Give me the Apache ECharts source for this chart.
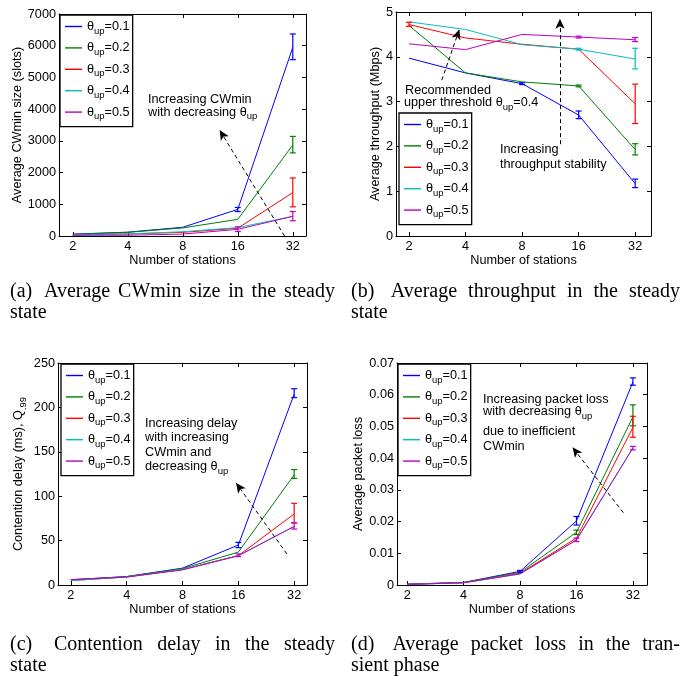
<!DOCTYPE html>
<html>
<head>
<meta charset="utf-8">
<script src="https://cdn.jsdelivr.net/npm/echarts@6/dist/echarts.min.js"></script>
<style>
  html, body { margin: 0; padding: 0; background: #fff; }
  #chart { width: 696px; height: 677px; }
</style>
</head>
<body>
<div id="chart"></div>
<script>
// ---- data ----
const stations = ['2', '4', '8', '16', '32'];
const stationIdx = [0, 1, 2, 3, 4];
const thetaNames = ['θup=0.1', 'θup=0.2', 'θup=0.3', 'θup=0.4', 'θup=0.5'];

// (a) average CWmin size (slots)
const cwmin01 = [60, 120, 275, 840, 5950];
const cwmin02 = [50, 115, 255, 525, 2870];
const cwmin03 = [35, 65, 115, 245, 1370];
const cwmin04 = [35, 65, 135, 265, 620];
const cwmin05 = [20, 25, 60, 210, 620];
// error bars: [station index, low, high]
const cwminErr01 = [[3, 770, 900], [4, 5560, 6370]];
const cwminErr02 = [[4, 2620, 3140]];
const cwminErr03 = [[4, 920, 1830]];
const cwminErr04 = [];
const cwminErr05 = [[3, 140, 290], [4, 480, 770]];

// (b) average throughput (Mbps)
const thr01 = [3.97, 3.64, 3.40, 2.70, 1.17];
const thr02 = [4.70, 3.64, 3.44, 3.35, 1.93];
const thr03 = [4.72, 4.42, 4.28, 4.17, 2.95];
const thr04 = [4.78, 4.61, 4.27, 4.17, 3.95];
const thr05 = [4.29, 4.16, 4.50, 4.44, 4.38];
const thrErr01 = [[2, 3.38, 3.42], [3, 2.62, 2.79], [4, 1.08, 1.27]];
const thrErr02 = [[3, 3.33, 3.37], [4, 1.81, 2.06]];
const thrErr03 = [[0, 4.68, 4.77], [4, 2.51, 3.39]];
const thrErr04 = [[3, 4.15, 4.19], [4, 3.73, 4.19]];
const thrErr05 = [[3, 4.42, 4.46], [4, 4.34, 4.43]];

// (c) contention delay (ms), Q.99
const delay01 = [6, 9.5, 19, 45, 215];
const delay02 = [5.5, 9.5, 18.5, 37, 124];
const delay03 = [5, 9, 17.5, 33, 80];
const delay04 = [5, 9, 17.5, 33, 66];
const delay05 = [6, 9, 17, 33, 66];
const delayErr01 = [[3, 42, 48], [4, 211, 221]];
const delayErr02 = [[4, 120, 130]];
const delayErr03 = [[4, 70, 92]];
const delayErr04 = [];
const delayErr05 = [[3, 32, 35], [4, 63, 70]];

// (d) average packet loss
const loss01 = [0.0003, 0.0008, 0.0043, 0.0202, 0.0640];
const loss02 = [0.0002, 0.0008, 0.0040, 0.0166, 0.0530];
const loss03 = [0.0002, 0.0007, 0.0037, 0.0148, 0.0497];
const loss04 = [0.0002, 0.0007, 0.0035, 0.0142, 0.0432];
const loss05 = [0.0002, 0.0007, 0.0035, 0.0142, 0.0432];
const lossErr01 = [[2, 0.0040, 0.0046], [3, 0.0189, 0.0216], [4, 0.0630, 0.0653]];
const lossErr02 = [[3, 0.0159, 0.0173], [4, 0.0502, 0.0568]];
const lossErr03 = [[4, 0.0466, 0.0532]];
const lossErr04 = [];
const lossErr05 = [[3, 0.0137, 0.0148], [4, 0.0426, 0.0437]];

// dashed annotation arrows, [from, to] in (station index, value)
const arrowsA = [[[3.85, 0], [2.67, 3340]]];
const arrowsB = [[[0.58, 3.48], [0.89, 4.61]], [[2.67, 2.05], [2.67, 4.85]]];
const arrowsC = [[[3.87, 35], [2.96, 115]]];
const arrowsD = [[[3.83, 0.0228], [2.93, 0.0434]]];

// ---- style ----
const FONT = 'Liberation Sans';
const FS = 12.7;
const colors = ['#0000ff', '#008000', '#ff0000', '#00bfbf', '#bf00bf'];
const subRich = {
  t: { fontFamily: FONT, fontSize: FS, color: '#000' },
  s: { fontFamily: FONT, fontSize: 9.5, color: '#000', padding: [9, 0, 0, 0] }
};

const panels = [
  {
    grid: { left: 59, top: 14, width: 247, height: 222 },
    xMin: -0.25, xMax: 4.24, yMax: 7000, yInt: 1000,
    yName: 'Average CWmin size (slots)', yGap: 33,
    fmt: v => String(v),
    lines: [cwmin01, cwmin02, cwmin03, cwmin04, cwmin05],
    errs: [cwminErr01, cwminErr02, cwminErr03, cwminErr04, cwminErr05],
    arrows: arrowsA,
    legend: { left: 60, top: 15 }
  },
  {
    grid: { left: 396, top: 12, width: 255, height: 224 },
    xMin: -0.23, xMax: 4.28, yMax: 5, yInt: 1,
    yName: 'Average throughput (Mbps)', yGap: 13,
    fmt: v => String(v),
    lines: [thr01, thr02, thr03, thr04, thr05],
    errs: [thrErr01, thrErr02, thrErr03, thrErr04, thrErr05],
    arrows: arrowsB,
    legend: { left: 399, top: 113 }
  },
  {
    grid: { left: 58, top: 363, width: 249, height: 222 },
    xMin: -0.23, xMax: 4.23, yMax: 250, yInt: 50,
    yName: '{t|Contention delay (ms), Q}{s|.99}', yGap: 30,
    fmt: v => String(v),
    lines: [delay01, delay02, delay03, delay04, delay05],
    errs: [delayErr01, delayErr02, delayErr03, delayErr04, delayErr05],
    arrows: arrowsC,
    legend: { left: 61, top: 364 }
  },
  {
    grid: { left: 397, top: 363, width: 250, height: 222 },
    xMin: -0.18, xMax: 4.25, yMax: 0.07, yInt: 0.01,
    yName: 'Average packet loss', yGap: 31,
    fmt: v => (v === 0 ? '0' : v.toFixed(2)),
    lines: [loss01, loss02, loss03, loss04, loss05],
    errs: [lossErr01, lossErr02, lossErr03, lossErr04, lossErr05],
    arrows: arrowsD,
    legend: { left: 398, top: 364 }
  }
];

const notes = [
  { x: 148, y: 99.5, t: 'Increasing CWmin' },
  { x: 148, y: 112, t: 'with decreasing {t|θ}{s|up}' },
  { x: 405, y: 90.5, t: 'Recommended' },
  { x: 404, y: 102.7, t: 'upper threshold {t|θ}{s|up}{t|=0.4}' },
  { x: 500, y: 149.3, t: 'Increasing' },
  { x: 500, y: 164.3, t: 'throughput stability' },
  { x: 145, y: 423.3, t: 'Increasing delay' },
  { x: 145, y: 437.5, t: 'with increasing' },
  { x: 145, y: 452.3, t: 'CWmin and' },
  { x: 145, y: 466.7, t: 'decreasing {t|θ}{s|up}' },
  { x: 483, y: 399.3, t: 'Increasing packet loss' },
  { x: 483, y: 411.7, t: 'with decreasing {t|θ}{s|up}' },
  { x: 483, y: 431.7, t: 'due to inefficient' },
  { x: 483, y: 446, t: 'CWmin' }
];

const captions = [
  { text: '(a) Average CWmin size in the steady', x0: 10, x1: 335, y: 291.5 },
  { text: 'state', x0: 10, y: 312.5 },
  { text: '(b) Average throughput in the steady', x0: 351, x1: 680, y: 291.5 },
  { text: 'state', x0: 351, y: 312.5 },
  { text: '(c) Contention delay in the steady', x0: 10, x1: 335, y: 644.5 },
  { text: 'state', x0: 10, y: 665.5 },
  { text: '(d) Average packet loss in the tran-', x0: 351, x1: 680, y: 644.5 },
  { text: 'sient phase', x0: 351, y: 665.5 }
];

// ---- build ----
const measureCtx = document.createElement('canvas').getContext('2d');
measureCtx.font = '20px "Liberation Serif"';

function captionElements(c) {
  const words = c.text.split(' ');
  const capStyle = w => ({ text: w, fontFamily: 'Liberation Serif', fontSize: 20, fill: '#000', verticalAlign: 'middle' });
  if (c.x1 === undefined) {
    return [{ type: 'text', x: c.x0, y: c.y, style: capStyle(c.text) }];
  }
  const widths = words.map(w => measureCtx.measureText(w).width);
  const total = widths.reduce((a, b) => a + b, 0);
  const weights = words.slice(1).map((_, i) => (i === 0 ? 1.5 : 1));
  const unit = (c.x1 - c.x0 - total) / weights.reduce((a, b) => a + b, 0);
  let x = c.x0;
  return words.map((w, i) => {
    const el = { type: 'text', x: x, y: c.y, style: capStyle(w) };
    x += widths[i] + unit * (weights[i] || 0);
    return el;
  });
}

const grids = [], xAxes = [], yAxes = [], series = [], legends = [];
const axisText = { color: '#000', fontFamily: FONT, fontSize: FS };

panels.forEach((p, pi) => {
  grids.push(p.grid);

  const xBase = {
    type: 'value', gridIndex: pi, min: p.xMin, max: p.xMax,
    splitLine: { show: false },
    axisLine: { show: true, onZero: false, lineStyle: { color: '#000', width: 1 } },
    axisTick: { show: true, inside: true, length: 4, customValues: stationIdx, lineStyle: { color: '#000' } },
    axisLabel: Object.assign({ customValues: stationIdx, formatter: v => stations[Math.round(v)], margin: 4 }, axisText)
  };
  xAxes.push(Object.assign({}, xBase, {
    position: 'bottom', name: 'Number of stations', nameLocation: 'middle', nameGap: 15,
    nameTextStyle: axisText
  }));
  xAxes.push(Object.assign({}, xBase, { position: 'top', axisLabel: { show: false } }));

  const yBase = {
    type: 'value', gridIndex: pi, min: 0, max: p.yMax, interval: p.yInt,
    splitLine: { show: false },
    axisLine: { show: true, onZero: false, lineStyle: { color: '#000', width: 1 } },
    axisTick: { show: true, inside: true, length: 4, lineStyle: { color: '#000' } },
    axisLabel: Object.assign({ formatter: p.fmt, margin: 3 }, axisText)
  };
  yAxes.push(Object.assign({}, yBase, {
    position: 'left', name: p.yName, nameLocation: 'middle', nameGap: p.yGap,
    nameTextStyle: Object.assign({ rich: subRich }, axisText)
  }));
  yAxes.push(Object.assign({}, yBase, { position: 'right', axisLabel: { show: false } }));

  p.lines.forEach((vals, k) => {
    const s = {
      type: 'line', name: thetaNames[k],
      xAxisIndex: 2 * pi, yAxisIndex: 2 * pi,
      data: vals.map((v, i) => [stationIdx[i], v]),
      symbol: 'none',
      lineStyle: { color: colors[k], width: 1 },
      itemStyle: { color: colors[k] },
      z: 2
    };
    if (k === 0) {
      s.markLine = {
        silent: true,
        symbol: ['none', 'arrow'],
        symbolSize: [7, 10],
        label: { show: false },
        lineStyle: { color: '#000', width: 1, type: [4, 3] },
        emphasis: { disabled: true },
        data: p.arrows.map(a => [{ coord: a[0] }, { coord: a[1] }])
      };
    }
    series.push(s);
  });

  p.errs.forEach((errs, k) => {
    if (!errs.length) return;
    const col = colors[k];
    series.push({
      type: 'custom',
      xAxisIndex: 2 * pi, yAxisIndex: 2 * pi,
      data: errs,
      z: 3,
      renderItem: (params, api) => {
        const lo = api.coord([api.value(0), api.value(1)]);
        const hi = api.coord([api.value(0), api.value(2)]);
        const w = 3;
        const st = { stroke: col, lineWidth: 1.2 };
        return {
          type: 'group',
          children: [
            { type: 'line', shape: { x1: lo[0], y1: lo[1], x2: hi[0], y2: hi[1] }, style: st },
            { type: 'line', shape: { x1: lo[0] - w, y1: lo[1], x2: lo[0] + w, y2: lo[1] }, style: st },
            { type: 'line', shape: { x1: hi[0] - w, y1: hi[1], x2: hi[0] + w, y2: hi[1] }, style: st }
          ]
        };
      }
    });
  });

  legends.push({
    data: thetaNames,
    orient: 'vertical',
    left: p.legend.left, top: p.legend.top,
    icon: 'rect',
    itemWidth: 17, itemHeight: 1.4, itemGap: 5.4,
    padding: [5, 3, 5, 5],
    borderColor: '#000', borderWidth: 1.3, borderRadius: 0,
    backgroundColor: '#fff',
    selectedMode: false,
    formatter: name => '{t|θ}{s|up}{t|' + name.slice(3) + '}',
    textStyle: Object.assign({ rich: subRich }, axisText)
  });
});

const graphics = [];
notes.forEach(n => {
  graphics.push({
    type: 'text', x: n.x, y: n.y, z: 10,
    style: { text: n.t, rich: subRich, fontFamily: FONT, fontSize: FS, fill: '#000', verticalAlign: 'middle' }
  });
});
captions.forEach(c => captionElements(c).forEach(el => graphics.push(el)));

const chart = echarts.init(document.getElementById('chart'));
chart.setOption({
  animation: false,
  backgroundColor: '#fff',
  textStyle: { fontFamily: FONT },
  grid: grids,
  xAxis: xAxes,
  yAxis: yAxes,
  legend: legends,
  series: series,
  graphic: graphics
});
</script>
</body>
</html>
